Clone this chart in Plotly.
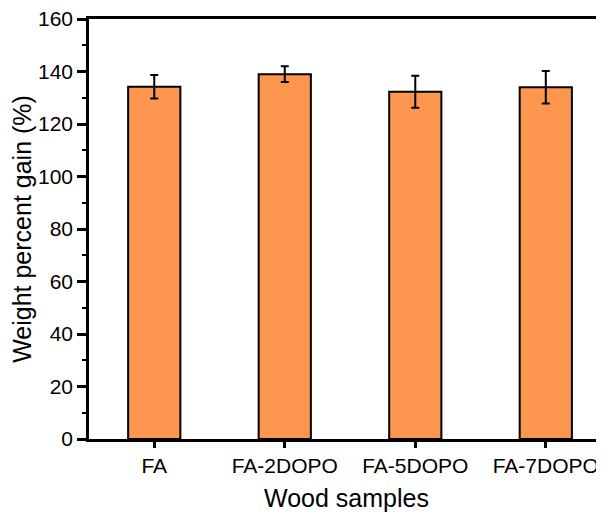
import plotly.graph_objects as go

categories = ["FA", "FA-2DOPO", "FA-5DOPO", "FA-7DOPO"]
wpg = [134.2, 139.0, 132.3, 134.0]
wpg_err = [4.5, 3.0, 6.1, 6.2]
y_ticks = [0, 20, 40, 60, 80, 100, 120, 140, 160]

fig = go.Figure()
fig.add_trace(go.Bar(
    x=list(range(len(categories))),
    y=wpg,
    width=0.4,
    marker=dict(color="#FD964E", line=dict(color="black", width=2)),
    error_y=dict(type="data", array=wpg_err, visible=True, color="black",
                 thickness=2, width=4),
))

font_family = "Liberation Sans, Arial, sans-serif"
# page body has an 8px margin, so the figure is 596x506 and offsets are compensated
fig.update_layout(
    width=596, height=506,
    margin=dict(l=81, r=0, t=11, b=75),
    plot_bgcolor="white", paper_bgcolor="white",
    showlegend=False,
    font=dict(family=font_family, color="black", size=21),
    xaxis=dict(
        range=[-0.5, 3.446],
        automargin=False,
        tickmode="array", tickvals=list(range(len(categories))), ticktext=categories,
        showline=True, linecolor="black", linewidth=2.5, mirror=True,
        ticks="outside", ticklen=6, tickwidth=2.5, tickcolor="black",
        showgrid=False, zeroline=False,
        ticklabeloverflow="allow",
        tickfont=dict(size=21),
        title=dict(text="Wood samples", font=dict(size=25), standoff=14),
    ),
    yaxis=dict(
        range=[0, 160],
        automargin=False,
        tickmode="array", tickvals=y_ticks,
        showline=True, linecolor="black", linewidth=2.5,
        ticks="outside", ticklen=9, tickwidth=2.5, tickcolor="black",
        minor=dict(ticks="outside", ticklen=4, tickwidth=2, tickcolor="black", dtick=10),
        showgrid=False, zeroline=False,
        ticklabeloverflow="allow",
        tickfont=dict(size=21),
        title=dict(text="Weight percent gain (%)", font=dict(size=25), standoff=9),
    ),
)

fig.write_html("out.html")
